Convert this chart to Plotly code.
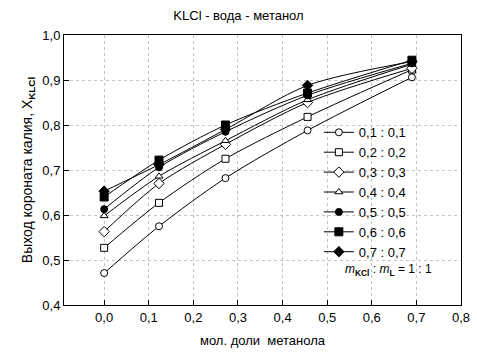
import plotly.graph_objects as go

x_mol = [0.0, 0.123, 0.272, 0.456, 0.69]
series_names = ["0,1 : 0,1", "0,2 : 0,2", "0,3 : 0,3", "0,4 : 0,4", "0,5 : 0,5", "0,6 : 0,6", "0,7 : 0,7"]
y_01 = [0.471, 0.575, 0.682, 0.788, 0.906]
y_02 = [0.527, 0.627, 0.725, 0.818, 0.923]
y_03 = [0.563, 0.670, 0.757, 0.850, 0.926]
y_04 = [0.598, 0.686, 0.765, 0.856, 0.935]
y_05 = [0.613, 0.706, 0.785, 0.866, 0.937]
y_06 = [0.640, 0.722, 0.800, 0.871, 0.944]
y_07 = [0.653, 0.712, 0.790, 0.888, 0.941]
series_values = [y_01, y_02, y_03, y_04, y_05, y_06, y_07]

symbols = ["circle", "square", "diamond", "triangle-up", "circle", "square", "diamond"]
fills = ["white", "white", "white", "white", "black", "black", "black"]
sizes = [7, 7, 8, 7, 7, 8, 8]

fig = go.Figure()
for name, ys, sym, fc, sz in zip(series_names, series_values, symbols, fills, sizes):
    fig.add_trace(go.Scatter(
        x=x_mol, y=ys, name=name, mode="lines+markers",
        line=dict(color="black", width=1, shape="spline", smoothing=0.8),
        marker=dict(symbol=sym, size=sz, color=fc, line=dict(color="black", width=1)),
    ))

font_family = "Liberation Sans, Arial, sans-serif"
fig.update_layout(
    width=477, height=358,
    margin=dict(l=64, r=16, t=35, b=53),
    paper_bgcolor="white", plot_bgcolor="white",
    separators=", ",
    font=dict(family=font_family, size=13, color="black"),
    title=dict(text="KLCl - вода - метанол", x=0.5, xanchor="center", y=0.958, yanchor="middle",
               font=dict(size=13, family=font_family)),
    showlegend=True,
    legend=dict(x=0.642, y=0.695, xanchor="left", yanchor="top", bgcolor="rgba(0,0,0,0)",
                font=dict(size=13, family=font_family), tracegroupgap=0, itemwidth=30),
    xaxis=dict(range=[-0.09, 0.8], tickvals=[0, 0.1, 0.2, 0.3, 0.4, 0.5, 0.6, 0.7, 0.8],
               tickformat=".1f", ticks="inside", ticklen=5, tickcolor="black", automargin=False,
               showline=True, linecolor="black", linewidth=1, mirror=True,
               showgrid=True, gridcolor="#c4c4c4", griddash="dot", gridwidth=1, zeroline=False,
               title=dict(text="мол. доли  метанола", standoff=12, font=dict(size=13))),
    yaxis=dict(range=[0.4, 1.0], tickvals=[0.4, 0.5, 0.6, 0.7, 0.8, 0.9, 1.0],
               tickformat=".1f", ticks="inside", ticklen=5, tickcolor="black", automargin=False,
               showline=True, linecolor="black", linewidth=1, mirror=True,
               showgrid=True, gridcolor="#c4c4c4", griddash="dot", gridwidth=1, zeroline=False,
               title=dict(text="Выход короната калия, X<sub><b>KLCl</b></sub>", standoff=6, font=dict(size=14))),
    annotations=[dict(
        x=0.703, y=0.13, xref="paper", yref="paper", xanchor="left", yanchor="middle",
        text="<i>m</i><sub><b>KCl</b></sub> : <i>m</i><sub><b>L</b></sub> = 1 : 1",
        showarrow=False, font=dict(size=12, family=font_family))],
)

fig.write_html("out.html", config={"displayModeBar": False},
               post_script="document.body.style.margin='0';document.body.style.padding='0';")
